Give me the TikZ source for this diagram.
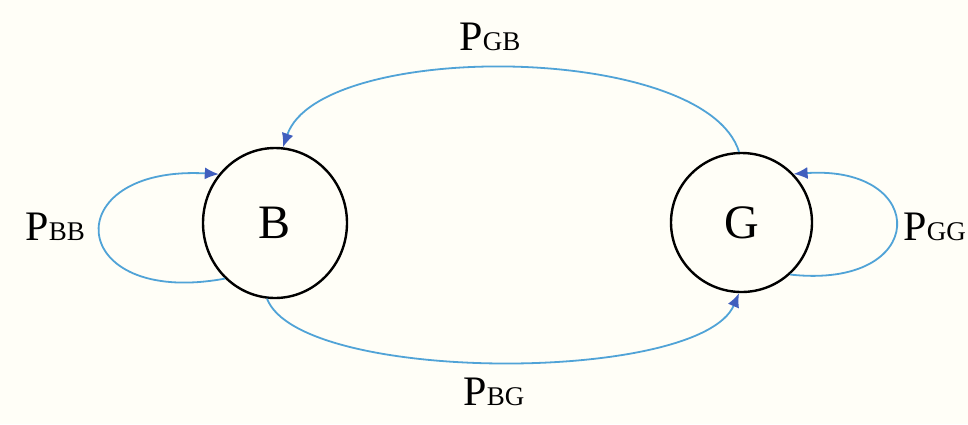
\documentclass[tikz,border=0pt]{standalone}
\usepackage{fontspec}
\setmainfont{Liberation Serif}
\usetikzlibrary{arrows.meta,shapes.geometric}
\definecolor{bg}{RGB}{255,254,247}
\definecolor{linkblue}{RGB}{80,163,215}
\definecolor{headblue}{RGB}{65,95,190}
\tikzset{
  state/.style={ellipse,draw=black,line width=1.2pt,inner sep=0pt,font=\fontsize{24}{28}\selectfont},
  link/.style={draw=linkblue,line width=0.9pt,-{Latex[length=7pt,width=6pt,color=headblue]}},
  prob/.style={inner sep=0pt,font=\fontsize{21}{25}\selectfont}
}
\newcommand{\pl}[1]{P{\fontsize{13.5}{16}\selectfont #1}}
\begin{document}
\begin{tikzpicture}[x=0.5pt,y=-0.5pt]
  \fill[bg] (0,0) rectangle (968,424);
  \useasboundingbox (0,0) rectangle (968,424);
  \node[state,minimum width=72pt,minimum height=75pt] (B) at (275,223) {B};
  \node[state,minimum width=70.5pt,minimum height=69.5pt] (G) at (741.5,222.5) {G};
  \draw[link] (G.92) .. controls (705,42) and (320,40) .. (B.84);
  \draw[link] (B.264) .. controls (300,384) and (700,384) .. (G.268);
  \draw[link] (B.228) .. controls (65,308) and (55,165) .. (B.139);
  \draw[link] (G.313) .. controls (930,290) and (930,165) .. (G.43);
  \node[prob,anchor=west] (pbb) at (25,227) {\pl{BB}};
  \node[prob] (pgb) at (490,37) {\pl{GB}};
  \node[prob] (pbg) at (494,392) {\pl{BG}};
  \node[prob,anchor=west] (pgg) at (903,227) {\pl{GG}};
\end{tikzpicture}
\end{document}
